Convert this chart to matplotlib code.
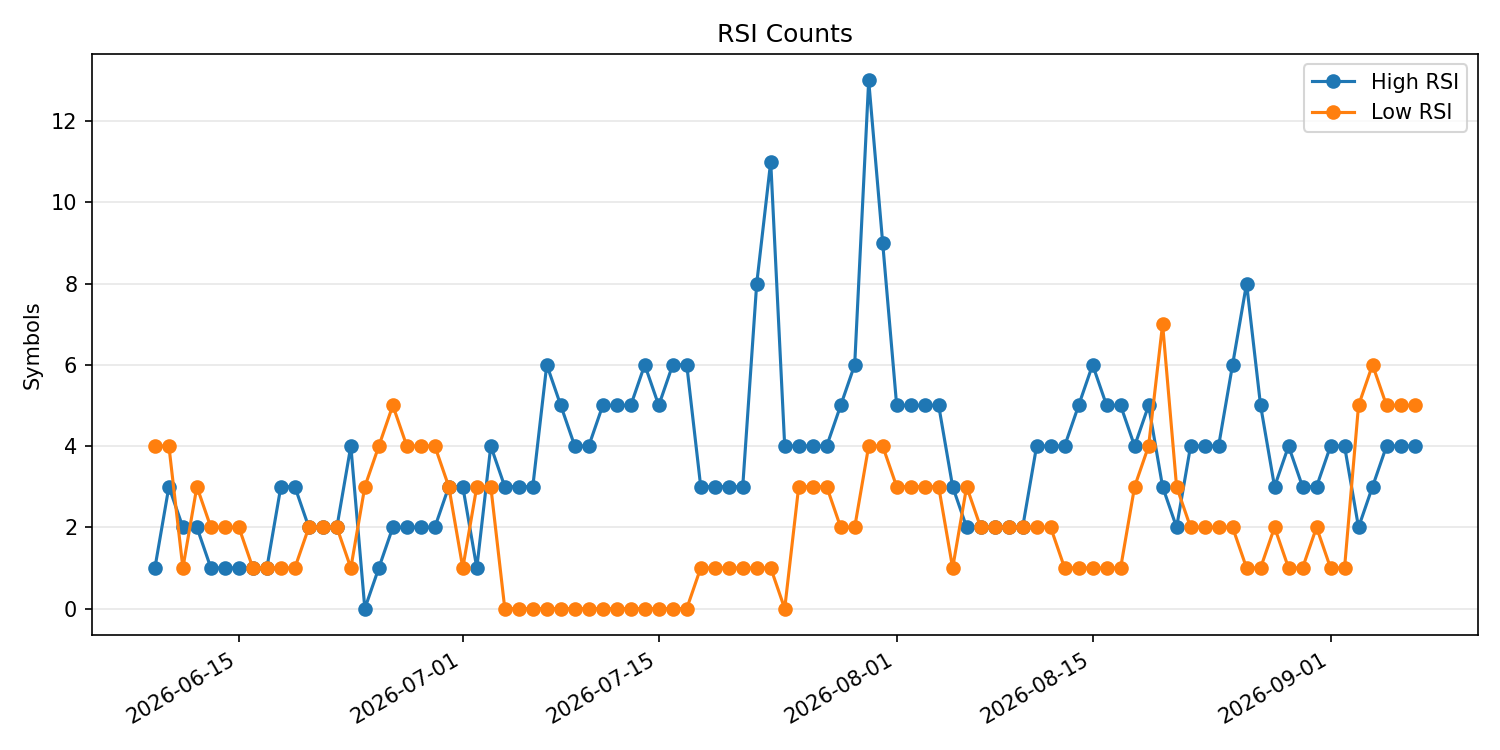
import matplotlib
matplotlib.use("Agg")
import matplotlib.pyplot as plt
import pandas as pd

dates = pd.date_range("2026-06-09", "2026-09-07", freq="D")

high_rsi = [
    # June 9-30
    1, 3, 2, 2, 1, 1, 1, 1, 1, 3, 3, 2, 2, 2, 4, 0, 1, 2, 2, 2, 2, 3,
    # July
    3, 1, 4, 3, 3, 3, 6, 5, 4, 4, 5, 5, 5, 6, 5, 6, 6, 3, 3, 3, 3, 8, 11,
    4, 4, 4, 4, 5, 6, 13, 9,
    # August
    5, 5, 5, 5, 3, 2, 2, 2, 2, 2, 4, 4, 4, 5, 6, 5, 5, 4, 5, 3, 2, 4, 4,
    4, 6, 8, 5, 3, 4, 3, 3,
    # September 1-7
    4, 4, 2, 3, 4, 4, 4,
]

low_rsi = [
    # June 9-30
    4, 4, 1, 3, 2, 2, 2, 1, 1, 1, 1, 2, 2, 2, 1, 3, 4, 5, 4, 4, 4, 3,
    # July
    1, 3, 3, 0, 0, 0, 0, 0, 0, 0, 0, 0, 0, 0, 0, 0, 0, 1, 1, 1, 1, 1, 1,
    0, 3, 3, 3, 2, 2, 4, 4,
    # August
    3, 3, 3, 3, 1, 3, 2, 2, 2, 2, 2, 2, 1, 1, 1, 1, 1, 3, 4, 7, 3, 2, 2,
    2, 2, 1, 1, 2, 1, 1, 2,
    # September 1-7
    1, 1, 5, 6, 5, 5, 5,
]


def main():
    fig, ax = plt.subplots(figsize=(10, 5), dpi=150)
    ax.plot(dates, high_rsi, marker="o", label="High RSI")
    ax.plot(dates, low_rsi, marker="o", label="Low RSI")
    ax.set_title("RSI Counts")
    ax.set_ylabel("Symbols")
    ax.grid(axis="y", alpha=0.3)
    ax.legend(loc="upper right")
    fig.autofmt_xdate()
    fig.tight_layout()
    fig.savefig("out.png")


if __name__ == "__main__":
    main()
